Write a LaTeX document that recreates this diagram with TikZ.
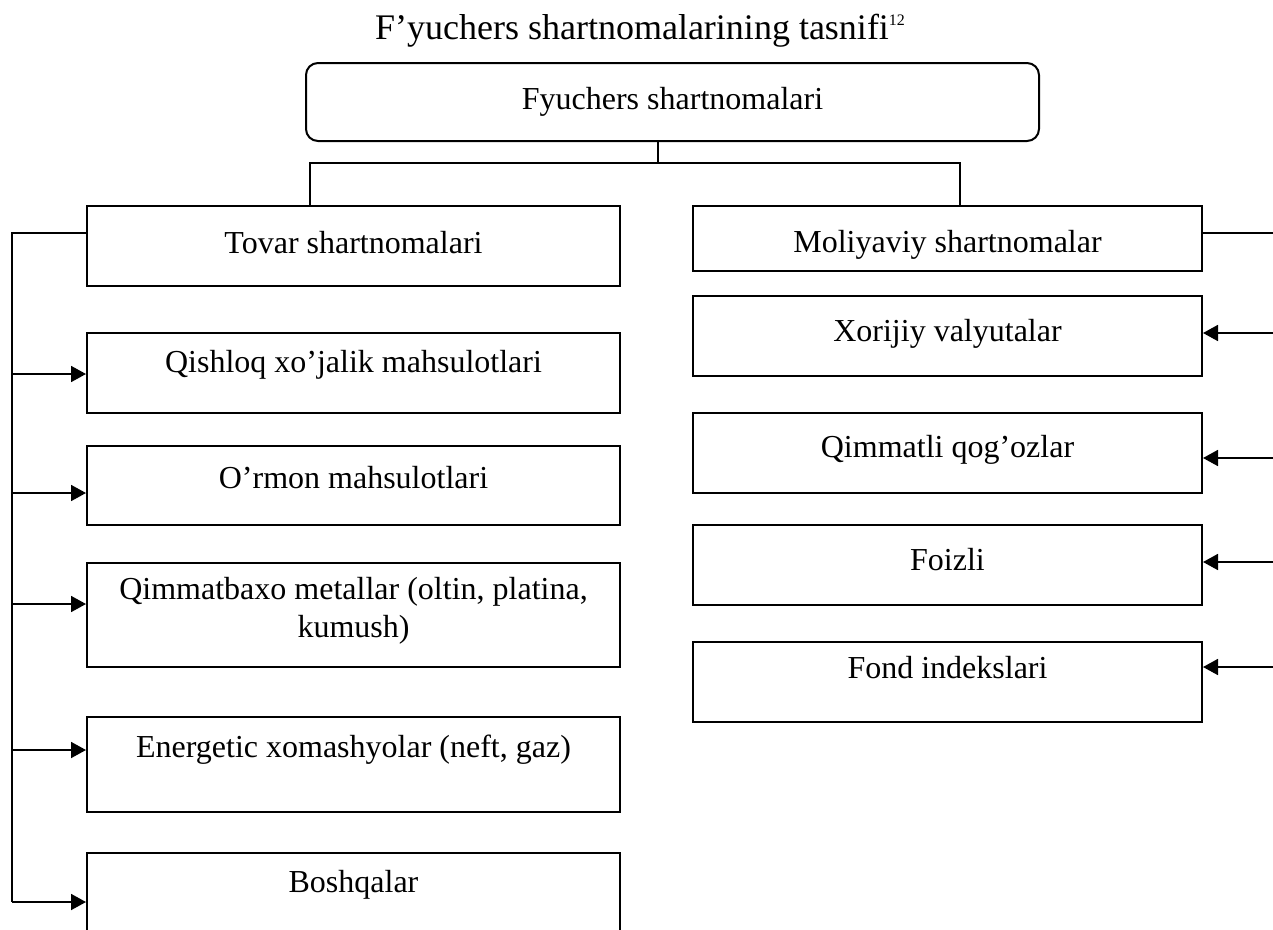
\documentclass[tikz,border=0pt]{standalone}
\usepackage{fontspec}
\setmainfont{Liberation Serif}
\usetikzlibrary{arrows.meta}
\begin{document}
\begin{tikzpicture}[x=1pt,y=-1pt,
  box/.style={draw,line width=2pt,inner sep=0pt,align=center,font=\fontsize{32}{38}\selectfont},
  lbl/.style={inner sep=0pt,align=center,font=\fontsize{32}{38}\selectfont},
  conn/.style={line width=1.8pt},
  arr/.style={conn,-{Triangle[length=15pt,width=16pt]}}]
\useasboundingbox (0,0) rectangle (1273,929);
% title
\node[inner sep=0pt,font=\fontsize{36}{40}\selectfont] (title) at (640,31) {F’yuchers shartnomalarining tasnifi\raisebox{0.85ex}{\fontsize{16}{17}\selectfont 12}};
% top box
\node[box,rounded corners=12pt,minimum width=733pt,minimum height=78pt] (top) at (672.5,102) {Fyuchers shartnomalari};
% level 2
\node[box,minimum width=533pt,minimum height=80pt] (tov) at (353.5,246) {};
\node[lbl] (tovT) at (353.5,243) {Tovar shartnomalari};
\node[box,minimum width=509pt,minimum height=65pt] (mol) at (947.5,238.5) {};
\node[lbl] (molT) at (947.5,245) {Moliyaviy shartnomalar};
% left column
\node[box,minimum width=533pt,minimum height=80pt] (qis) at (353.5,373) {};
\node[lbl] (qisT) at (353.5,365) {Qishloq xo’jalik mahsulotlari};
\node[box,minimum width=533pt,minimum height=79pt] (orm) at (353.5,485.5) {};
\node[lbl] (ormT) at (353.5,478) {O’rmon mahsulotlari};
\node[box,minimum width=533pt,minimum height=104pt] (qbx) at (353.5,615) {};
\node[lbl] (qbxT) at (353.5,611) {Qimmatbaxo metallar (oltin, platina,\\ kumush)};
\node[box,minimum width=533pt,minimum height=95pt] (ene) at (353.5,764.5) {};
\node[lbl] (eneT) at (353.5,750) {Energetic xomashyolar (neft, gaz)};
\node[box,minimum width=533pt,minimum height=110pt] (bos) at (353.5,908) {};
\node[lbl] (bosT) at (353.5,885) {Boshqalar};
% right column
\node[box,minimum width=509pt,minimum height=80pt] (xor) at (947.5,336) {};
\node[lbl] (xorT) at (947.5,334) {Xorijiy valyutalar};
\node[box,minimum width=509pt,minimum height=80pt] (qim) at (947.5,453) {};
\node[lbl] (qimT) at (947.5,450) {Qimmatli qog’ozlar};
\node[box,minimum width=509pt,minimum height=80pt] (foi) at (947.5,565) {};
\node[lbl] (foiT) at (947.5,560) {Foizli};
\node[box,minimum width=509pt,minimum height=80pt] (fon) at (947.5,682) {};
\node[lbl] (fonT) at (947.5,668) {Fond indekslari};
% top connectors
\coordinate (hm) at (658,163);
\coordinate (hl) at (310,163);
\coordinate (hr) at (960,163);
\draw[conn] (top.south -| hm) -- (hm);
\draw[conn] (tov.north -| hl) -- (hl) -- (hr) -- (mol.north -| hr);
% left bus
\coordinate (lt) at (12,233);
\coordinate (lb) at (12,902);
\draw[conn] (tov.west |- lt) -- (lt) -- (lb);
\draw[arr] (12,374) -- (qis.west |- 0,374);
\draw[arr] (12,493) -- (orm.west |- 0,493);
\draw[arr] (12,604) -- (qbx.west |- 0,604);
\draw[arr] (12,750) -- (ene.west |- 0,750);
\draw[arr] (lb) -- (bos.west |- lb);
% right bus
\coordinate (rt) at (1290,233);
\coordinate (rb) at (1290,667);
\draw[conn] (mol.east |- rt) -- (rt) -- (rb);
\draw[arr] (1290,333) -- (xor.east |- 0,333);
\draw[arr] (1290,458) -- (qim.east |- 0,458);
\draw[arr] (1290,562) -- (foi.east |- 0,562);
\draw[arr] (rb) -- (fon.east |- rb);
\end{tikzpicture}
\end{document}
